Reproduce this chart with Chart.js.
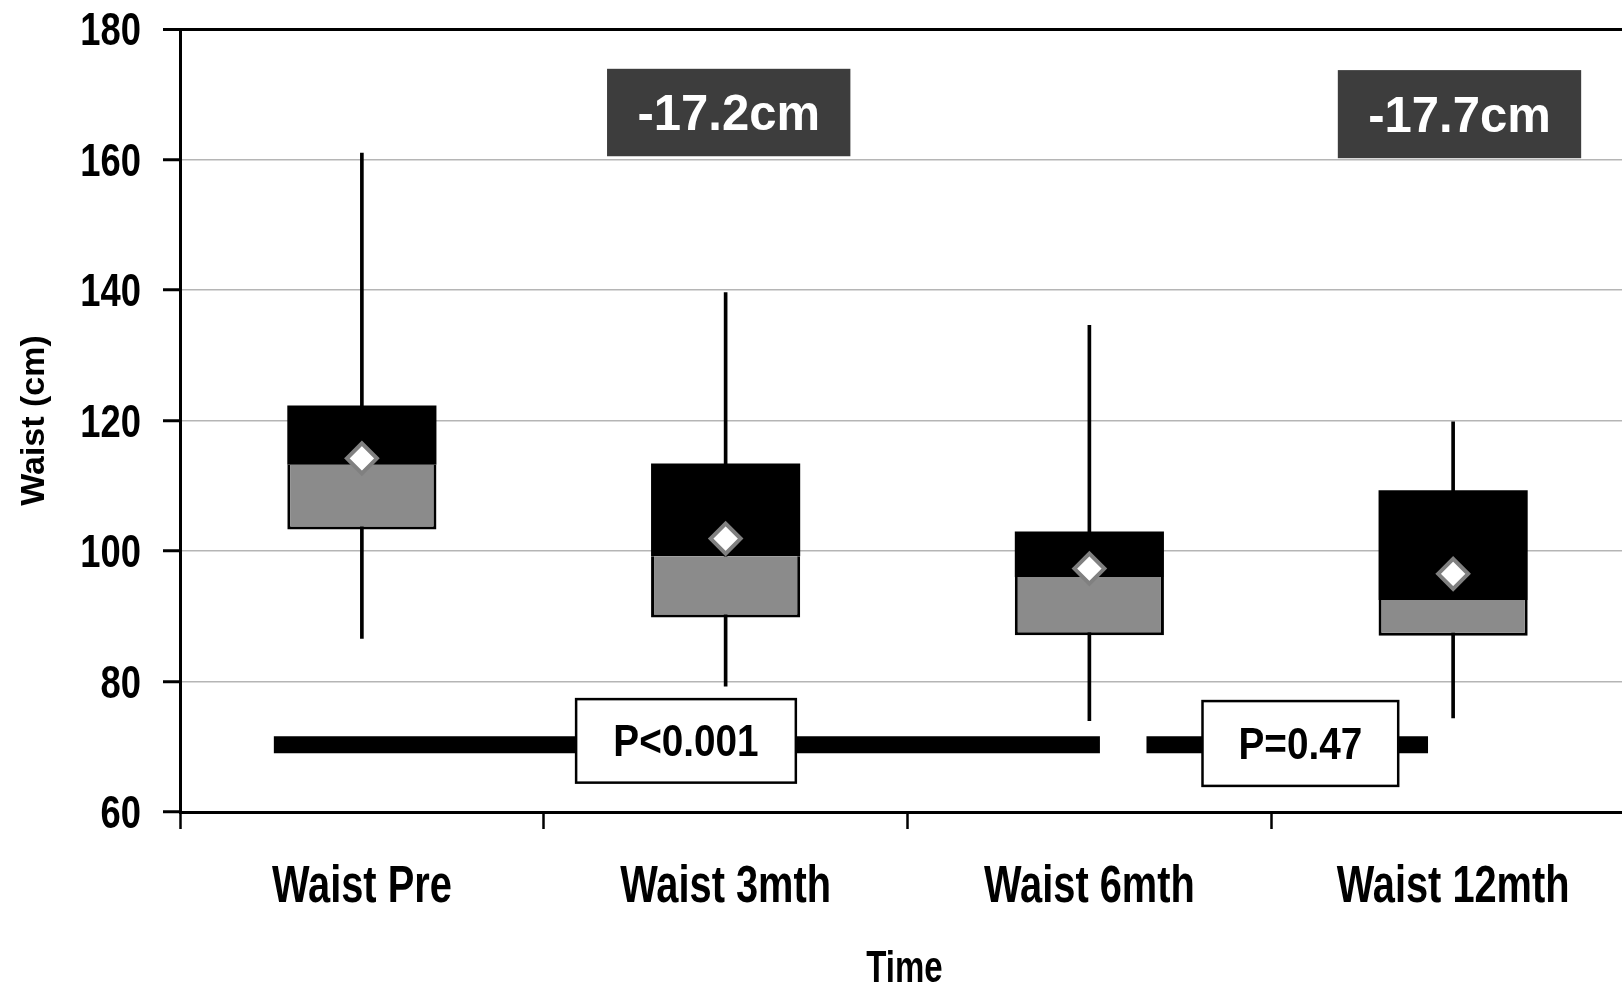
<!DOCTYPE html>
<html>
<head>
<meta charset="utf-8">
<title>Waist circumference over time</title>
<script src="https://cdn.jsdelivr.net/npm/chart.js@4.4.1/dist/chart.umd.min.js"></script>
<style>
  html, body { margin: 0; padding: 0; background: #fff; overflow: hidden; }
  #wrap { width: 1654px; height: 986px; }
</style>
</head>
<body>
<div id="wrap"><canvas id="waistChart" width="1654" height="986"></canvas></div>
<script>
// box plot summary per time point (cm)
const timePoints = ['Waist Pre', 'Waist 3mth', 'Waist 6mth', 'Waist 12mth'];
const waistMin = [86.6, 79.3, 74.0, 74.4];
const waistQ1 = [103.3, 89.8, 87.1, 87.0];
const waistMedian = [113.2, 99.2, 96.0, 92.5];
const waistQ3 = [122.3, 113.4, 103.0, 109.3];
const waistMax = [161.0, 139.6, 134.6, 119.8];
const waistMean = [114.2, 101.9, 97.3, 96.5];
const yTicks = [60, 80, 100, 120, 140, 160, 180];

const changeLabels = ['-17.2cm', '-17.7cm'];
const pLabels = ['P<0.001', 'P=0.47'];

const SANS = '"Liberation Sans", Arial, sans-serif';
const CAP = 0.7; // cap height as a fraction of the font size

// placement of the callouts, in category index / cm units
const changeBoxes = [
    { text: changeLabels[0], x0: 0.674, x1: 1.343, y0: 160.5, y1: 173.9 },
    { text: changeLabels[1], x0: 2.683, x1: 3.352, y0: 160.2, y1: 173.7 }
];
const compareSpans = [
    { from: -0.242, to: 2.029, at: 70.3 },
    { from: 2.157, to: 2.931, at: 70.3 }
];
const pBoxes = [
    { text: pLabels[0], x0: 0.589, x1: 1.193, y0: 64.5, y1: 77.3 },
    { text: pLabels[1], x0: 2.311, x1: 2.849, y0: 64.0, y1: 77.0 }
];

// bold text squeezed horizontally (Arial Narrow look), centred on its cap height
function squeezedText(ctx, text, x, y, size, sx, align, color) {
    ctx.save();
    ctx.translate(x, y);
    ctx.scale(sx, 1);
    ctx.font = 'bold ' + size + 'px ' + SANS;
    ctx.fillStyle = color;
    ctx.textAlign = align;
    ctx.textBaseline = 'alphabetic';
    ctx.fillText(text, 0, size * CAP / 2);
    ctx.restore();
}

const callouts = {
    id: 'callouts',
    afterDatasetsDraw(chart) {
        const { ctx, scales: { x, y } } = chart;
        ctx.save();

        // thick comparison bars
        ctx.strokeStyle = '#000';
        ctx.lineWidth = 17;
        ctx.lineCap = 'butt';
        compareSpans.forEach(s => {
            const py = y.getPixelForValue(s.at);
            ctx.beginPath();
            ctx.moveTo(x.getPixelForValue(s.from), py);
            ctx.lineTo(x.getPixelForValue(s.to), py);
            ctx.stroke();
        });

        // p-value boxes
        pBoxes.forEach(b => {
            const l = x.getPixelForValue(b.x0), r = x.getPixelForValue(b.x1);
            const t = y.getPixelForValue(b.y1), btm = y.getPixelForValue(b.y0);
            ctx.fillStyle = '#fff';
            ctx.fillRect(l, t, r - l, btm - t);
            ctx.lineWidth = 2.5;
            ctx.strokeStyle = '#000';
            ctx.strokeRect(l, t, r - l, btm - t);
            squeezedText(ctx, b.text, (l + r) / 2, (t + btm) / 2, 44, 0.88, 'center', '#000');
        });

        // change-from-baseline boxes
        changeBoxes.forEach(b => {
            const l = x.getPixelForValue(b.x0), r = x.getPixelForValue(b.x1);
            const t = y.getPixelForValue(b.y1), btm = y.getPixelForValue(b.y0);
            ctx.fillStyle = '#3d3d3d';
            ctx.fillRect(l, t, r - l, btm - t);
            squeezedText(ctx, b.text, (l + r) / 2, (t + btm) / 2, 50, 0.98, 'center', '#fff');
        });

        ctx.restore();
    },
    afterDraw(chart) {
        const { ctx, scales: { x, y } } = chart;
        // y tick labels
        y.ticks.forEach(t => {
            squeezedText(ctx, String(t.value), y.right - 39, y.getPixelForValue(t.value), 46, 0.79, 'right', '#000');
        });
        // category labels
        chart.data.labels.forEach((label, i) => {
            squeezedText(ctx, label, x.getPixelForValue(i), x.top + 72, 51, 0.78, 'center', '#000');
        });
        // x axis title
        squeezedText(ctx, 'Time', (x.left + x.right) / 2 - 3, x.bottom - 19, 44, 0.75, 'center', '#000');
    }
};

new Chart(document.getElementById('waistChart'), {
    type: 'bar',
    data: {
        labels: timePoints,
        datasets: [
            {
                label: 'Range',
                data: timePoints.map((_, i) => [waistMin[i], waistMax[i]]),
                backgroundColor: '#000',
                barThickness: 3,
                grouped: false,
                order: 3
            },
            {
                label: 'Median to Q3',
                data: timePoints.map((_, i) => [waistMedian[i], waistQ3[i]]),
                backgroundColor: '#000',
                borderWidth: 0,
                barPercentage: 0.41,
                categoryPercentage: 1,
                grouped: false,
                order: 2
            },
            {
                label: 'Q1 to Median',
                data: timePoints.map((_, i) => [waistQ1[i], waistMedian[i]]),
                backgroundColor: '#8b8b8b',
                borderColor: '#000',
                borderWidth: 3,
                borderSkipped: 'end',
                barPercentage: 0.41,
                categoryPercentage: 1,
                grouped: false,
                order: 1
            },
            {
                type: 'line',
                label: 'Mean',
                data: waistMean,
                showLine: false,
                pointStyle: 'rectRot',
                pointRadius: 15,
                pointBackgroundColor: '#fff',
                pointBorderColor: '#808080',
                pointBorderWidth: 4,
                order: 0
            }
        ]
    },
    options: {
        responsive: false,
        animation: false,
        devicePixelRatio: 1,
        layout: { padding: { top: 29, right: 6, left: 0, bottom: 0 } },
        plugins: {
            legend: { display: false },
            tooltip: { enabled: false }
        },
        scales: {
            x: {
                offset: true,
                grid: {
                    offset: true,
                    drawOnChartArea: false,
                    tickLength: 17,
                    tickColor: '#000',
                    tickWidth: 2.5
                },
                border: { color: '#000', width: 3 },
                ticks: { display: false },
                afterFit(scale) { scale.height = 174; }
            },
            y: {
                min: 60,
                max: 180,
                afterBuildTicks(scale) { scale.ticks = yTicks.map(v => ({ value: v })); },
                grid: {
                    color: c => (c.tick && c.tick.value === 180 ? '#000' : '#b5b5b5'),
                    lineWidth: c => (c.tick && c.tick.value === 180 ? 3 : 1.5),
                    tickLength: 17,
                    tickColor: '#000',
                    tickWidth: 3
                },
                border: { color: '#000', width: 3 },
                ticks: { display: false },
                title: {
                    display: true,
                    text: 'Waist (cm)',
                    color: '#000',
                    padding: { top: 14, bottom: 0 },
                    font: { family: SANS, size: 34, weight: 'bold' }
                },
                afterFit(scale) { scale.width = 180; }
            }
        }
    },
    plugins: [callouts]
});
</script>
</body>
</html>
